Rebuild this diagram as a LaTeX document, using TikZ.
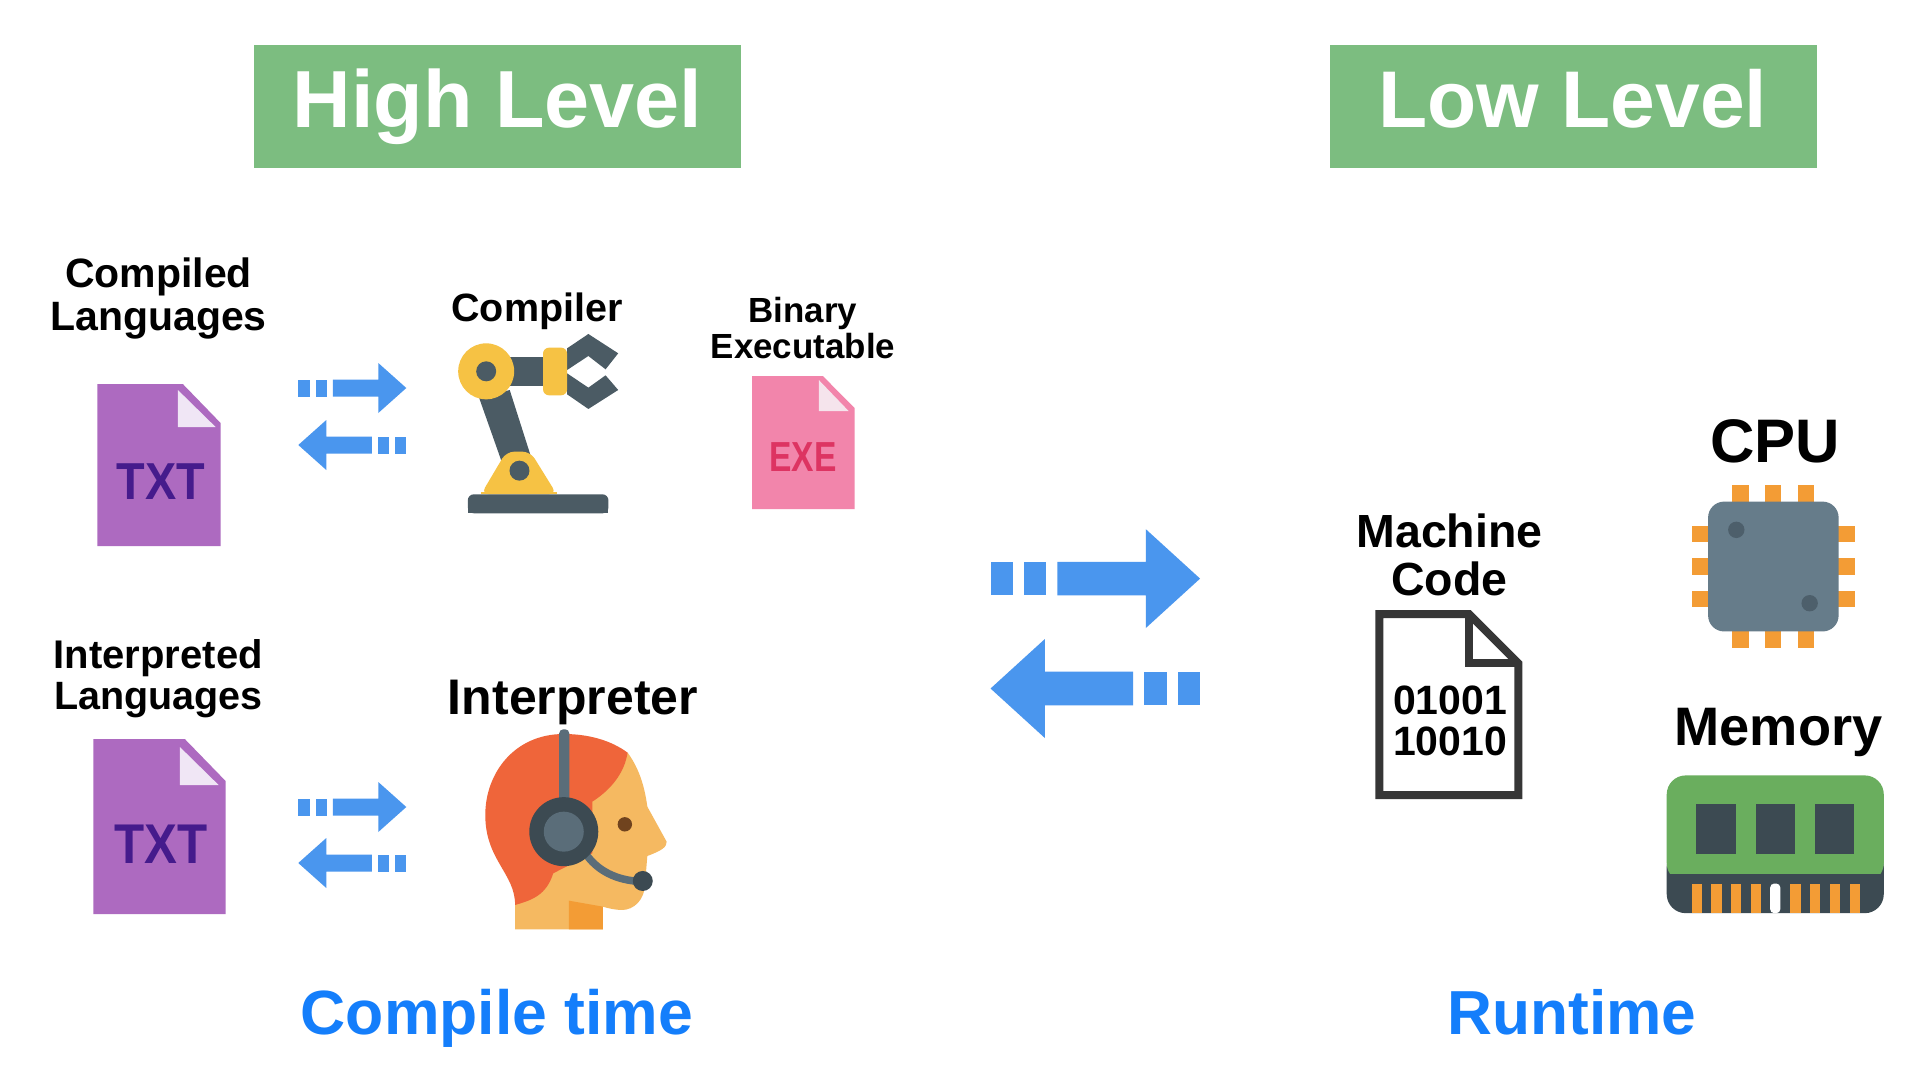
\documentclass[tikz,border=0pt]{standalone}
\usepackage{fontspec}
\setmainfont{Liberation Sans}
\definecolor{hdrgreen}{HTML}{7CBD80}
\definecolor{arrowblue}{HTML}{4A96EE}
\definecolor{titleblue}{HTML}{147EFB}
\definecolor{docpurple}{HTML}{AD6AC0}
\definecolor{foldpurple}{HTML}{F0E6F5}
\definecolor{txtpurple}{HTML}{451B8C}
\definecolor{exepink}{HTML}{F285AB}
\definecolor{foldpink}{HTML}{F5E4EC}
\definecolor{exered}{HTML}{DD3462}
\definecolor{robotdark}{HTML}{4B5B64}
\definecolor{robotyellow}{HTML}{F6C244}
\definecolor{hairorange}{HTML}{EF653A}
\definecolor{skin}{HTML}{F5B961}
\definecolor{neckorange}{HTML}{F39C35}
\definecolor{headsetdark}{HTML}{3C4A52}
\definecolor{headsetmid}{HTML}{5A6D79}
\definecolor{eyebrown}{HTML}{70431E}
\definecolor{chipgrey}{HTML}{667C8A}
\definecolor{chipdot}{HTML}{4D5F6B}
\definecolor{ramgreen}{HTML}{6AAE5E}
\definecolor{docdark}{HTML}{363636}
\tikzset{
  lab/.style={anchor=base,inner sep=0pt,outer sep=0pt,font=\bfseries,text=black},
  zoomA/.style={shift={(0,230)},x=0.5740pt,y=-0.3333pt},
  zoomB/.style={shift={(0,620)},x=0.4591pt,y=-0.3333pt},
  zoomC/.style={shift={(1330,400)},x=0.3762pt,y=-0.3444pt},
  pinfill/.style={fill=neckorange,draw=none},
}
% name, x, baseline y, size, text
\newcommand{\lbl}[6][black]{\node[lab,text=#1] (#2) at (#3,#4) {\fontsize{#5}{#5}\selectfont #6};}
% centre x, centre y, x scale, direction (1 or -1), y scale
\newcommand{\dasharrow}[5]{%
  \begin{scope}[shift={(#1,#2)},xscale=#3*#4,yscale=#5]
    \fill[arrowblue] (-54,-8.5) rectangle (-42.5,8.5);
    \fill[arrowblue] (-36.7,-8.5) rectangle (-25.2,8.5);
    \fill[arrowblue] (-19.5,-8.5) -- (26,-8.5) -- (26,-25) -- (54,0) -- (26,25) -- (26,8.5) -- (-19.5,8.5) -- cycle;
  \end{scope}}
\begin{document}
\begin{tikzpicture}[x=1pt,y=-1pt]
\useasboundingbox (0,0) rectangle (1920,1080);
\fill[white] (0,0) rectangle (1920,1080);
% headers
\fill[hdrgreen] (254,44.5) rectangle (741,167.5);
\fill[hdrgreen] (1330,44.5) rectangle (1817,167.5);
\lbl[white]{high}{497.5}{127.5}{81}{High Level}
\lbl[white]{low}{1573}{127.5}{80.4}{Low Level}
% labels
\lbl{comp1}{158.5}{287}{41}{Compiled}
\lbl{comp2}{158.5}{330}{41}{Languages}
\lbl{compiler}{537}{321}{39.5}{Compiler}
\lbl{bin1}{803}{322}{34.9}{Binary}
\lbl{bin2}{803}{358}{34.9}{Executable}
\lbl{int1}{158.3}{668}{40}{Interpreted}
\lbl{int2}{158.3}{709}{39.5}{Languages}
\lbl{interp}{573}{714}{50}{Interpreter}
\lbl{mach1}{1449.5}{547}{46.5}{Machine}
\lbl{mach2}{1449.5}{595.5}{46.5}{Code}
\lbl{cpu}{1775}{462}{61.5}{CPU}
\lbl{mem}{1778.5}{745.5}{54.2}{Memory}
\lbl[titleblue]{ctime}{497}{1034}{62.5}{Compile time}
\lbl[titleblue]{rtime}{1572}{1034}{62.2}{Runtime}
% TXT 1
\fill[docpurple] (97.4,384) -- (182.8,384) -- (220.6,423) -- (220.6,546) -- (97.4,546) -- cycle;
\fill[foldpurple] (177.9,390) -- (215.6,427) -- (177.9,427) -- cycle;
\node[lab,text=txtpurple] (txta) at (161,499.5) {\scalebox{0.9}[1]{\fontsize{52}{52}\selectfont TXT}};
% TXT 2
\fill[docpurple] (93.4,739) -- (184.8,739) -- (225.6,781) -- (225.6,914) -- (93.4,914) -- cycle;
\fill[foldpurple] (179.9,747) -- (218.6,785) -- (179.9,785) -- cycle;
\node[lab,text=txtpurple] (txtb) at (161,863.5) {\scalebox{0.88}[1]{\fontsize{56}{56}\selectfont TXT}};
% EXE
\fill[exepink] (752.2,376) -- (822.8,376) -- (854.6,408) -- (854.6,509) -- (752.2,509) -- cycle;
\fill[foldpink] (818.8,380) -- (848.6,411) -- (818.8,411) -- cycle;
\node[lab,text=exered] (exe) at (803,471) {\scalebox{0.8}[1]{\fontsize{42}{42}\selectfont EXE}};
% arrows
\dasharrow{352.3}{388}{1}{1}{1}
\dasharrow{352.3}{445}{1}{-1}{1}
\dasharrow{352.3}{807}{1}{1}{1}
\dasharrow{352.3}{863}{1}{-1}{1}
\dasharrow{1095.3}{578.6}{1.94}{1}{1.98}
\dasharrow{1095.3}{688.5}{1.94}{-1}{1.98}
% robot
\begin{scope}[zoomA]
  \fill[robotdark] (988,355) -- (1025,312) -- (1077,370) -- (1055,418) -- (1025,378) -- (988,420) -- cycle;
  \fill[robotdark] (988,493) -- (1025,537) -- (1077,480) -- (1055,436) -- (1025,473) -- (988,430) -- cycle;
  \fill[robotdark] (880,382) rectangle (950,467);
  \fill[robotdark] (835,505) -- (888,480) -- (925,680) -- (875,700) -- cycle;
  \fill[robotyellow,rounded corners=6pt] (988,353) -- (946,353) -- (946,496) -- (988,496) -- cycle;
  \fill[robotyellow] (847,424) circle[radius=28pt];
  \fill[robotdark] (847,424) circle[radius=10pt];
  \fill[robotyellow,rounded corners=8pt] (838,793) -- (882,665) -- (924,665) -- (970,793) -- cycle;
  \fill[robotyellow] (838,793) rectangle (970,785);
  \fill[robotdark] (905,722) circle[radius=10pt];
  \fill[robotdark,rounded corners=6pt] (815,850) -- (815,793) -- (1060,793) -- (1060,850) -- cycle;
  \fill[robotdark] (815,830) rectangle (1060,850);
\end{scope}
% head
\begin{scope}[zoomB]
  \fill[skin] (1367,398) .. controls (1395,450) and (1405,510) .. (1410,560) -- (1452,665) .. controls (1452,680) and (1445,690) .. (1410,708) -- (1405,790) .. controls (1405,840) and (1380,870) .. (1355,870) .. controls (1340,870) and (1325,865) .. (1313,860) -- (1313,928) -- (1122,928) -- (1122,855) -- (1200,600) -- cycle;
  \fill[hairorange] (1367,398) .. controls (1330,360) and (1280,342) .. (1228,342) .. controls (1120,342) and (1057,460) .. (1057,585) .. controls (1057,720) and (1122,760) .. (1122,855) .. controls (1160,840) and (1190,825) .. (1205,760) -- (1290,700) -- (1290,545) .. controls (1330,510) and (1360,460) .. (1367,398) -- cycle;
  \fill[neckorange] (1239,842) -- (1313,860) -- (1313,928) -- (1239,928) -- cycle;
  \fill[headsetmid,rounded corners=4pt] (1218,328) rectangle (1240,560);
  \draw[headsetmid,line width=7.5pt] (1275,700) .. controls (1300,750) and (1340,782) .. (1400,785);
  \fill[headsetdark] (1228,635) circle[radius=34.5pt];
  \fill[headsetmid] (1228,635) circle[radius=20pt];
  \fill[headsetdark] (1400,783) circle[radius=10pt];
  \fill[eyebrown] (1361,613) circle[radius=7.2pt];
\end{scope}
% machine code doc + cpu + memory
\begin{scope}[zoomC]
  \draw[docdark,line width=8pt,miter limit=4] (131,622) -- (370,622) -- (501,765) -- (501,1147) -- (131,1147) -- cycle;
  \draw[docdark,line width=8pt] (370,622) -- (370,765) -- (501,765);
  \node[lab] (bina) at (319,914) {\fontsize{41}{41}\selectfont 01001};
  \node[lab] (binb) at (319,1032) {\fontsize{41}{41}\selectfont 10010};
  % cpu
  \foreach \a in {1069,1156,1243}{
    \fill[pinfill] (\a,247) rectangle ++(44,50);
    \fill[pinfill] (\a,670) rectangle ++(44,50);}
  \foreach \a in {365,460,555}{
    \fill[pinfill] (961,\a) rectangle ++(46,47);
    \fill[pinfill] (1350,\a) rectangle ++(45,47);}
  \fill[chipgrey,rounded corners=16pt] (1005,295) rectangle (1352,672);
  \fill[chipdot] (1080,377) circle[radius=8.2pt];
  \fill[chipdot] (1275,590) circle[radius=8.2pt];
  % memory
  \fill[headsetdark,rounded corners=19pt] (895,1300) rectangle (1472,1490);
  \fill[ramgreen,rounded corners=19pt] (895,1090) rectangle (1472,1400);
  \fill[headsetdark] (895,1376) rectangle (1472,1420);
  \foreach \a in {974,1131,1289}{\fill[headsetdark] (\a,1174) rectangle ++(105,144);}
  \foreach \a in {961,1014,1066,1118,1224,1276,1329,1381}{\fill[pinfill] (\a,1404) rectangle ++(27,86);}
  \fill[white,rounded corners=4pt] (1170,1490) -- (1170,1404) -- (1197,1404) -- (1197,1490) -- cycle;
\end{scope}
\end{tikzpicture}
\end{document}
